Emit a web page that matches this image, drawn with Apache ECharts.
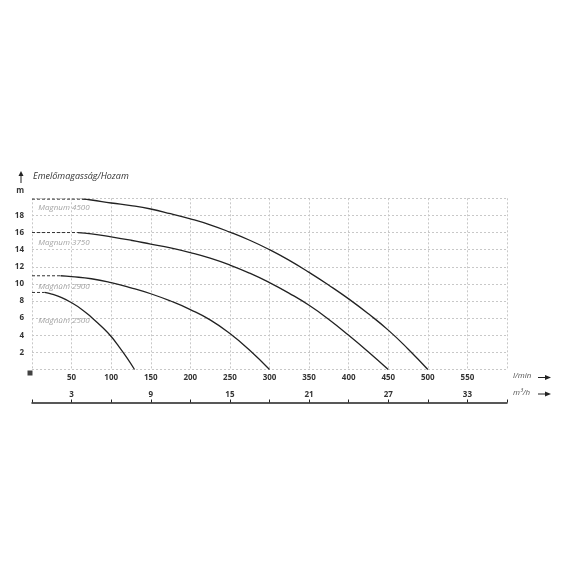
<!DOCTYPE html>
<html>
<head>
<meta charset="utf-8">
<script src="https://cdn.jsdelivr.net/npm/echarts@6/dist/echarts.min.js"></script>
<style>
  html, body { margin: 0; padding: 0; background: #fff; }
  #main { width: 570px; height: 570px; }
</style>
</head>
<body>
<div id="main"></div>
<script>
// flow (l/min) -> head (m)
var m4500Dash = [[0, 19.9], [63, 19.9]];
var m4500 = [[63, 19.9], [75, 19.8], [100, 19.45], [125, 19.15], [150, 18.75], [175, 18.2], [200, 17.6], [225, 16.9],
  [250, 16.05], [275, 15.1], [300, 14.0], [325, 12.75], [350, 11.35], [375, 9.85], [400, 8.25], [425, 6.5], [450, 4.6], [475, 2.4], [500, 0]];
var m3750Dash = [[0, 16], [58, 16]];
var m3750 = [[58, 16], [75, 15.85], [100, 15.5], [125, 15.1], [150, 14.65], [175, 14.2], [200, 13.65], [225, 13.0],
  [250, 12.2], [275, 11.25], [300, 10.15], [325, 8.9], [350, 7.5], [375, 5.85], [400, 4.0], [425, 2.05], [450, 0]];
var m2900Dash = [[0, 10.95], [36, 10.95]];
var m2900 = [[36, 10.95], [50, 10.85], [75, 10.6], [100, 10.15], [125, 9.55], [150, 8.85], [175, 8.0], [200, 7.0],
  [225, 5.8], [250, 4.2], [275, 2.25], [300, 0]];
var m2500Dash = [[0, 9.0], [16, 9.0]];
var m2500 = [[16, 9.0], [25, 8.8], [37.5, 8.4], [50, 7.8], [62.5, 7.05], [75, 6.1], [87.5, 5.05], [100, 3.85],
  [110, 2.65], [120, 1.35], [129.5, 0]];

var curveNames = ['Magnum 4500', 'Magnum 3750', 'Magnum 2900', 'Magnum 2500'];
var curveLabelHeads = [18.9, 14.8, 9.7, 5.7];
var m3hLabels = [3, 9, 15, 21, 27, 33];

var chart = echarts.init(document.getElementById('main'));
var font = 'Open Sans';

function solid(data) {
  return {
    type: 'line', data: data, xAxisIndex: 0, symbol: 'none', smooth: 0.5,
    lineStyle: { color: '#222', width: 1.3 }, silent: true
  };
}
function dashed(data) {
  return {
    type: 'line', data: data, xAxisIndex: 0, symbol: 'none',
    lineStyle: { color: '#333', width: 1, type: [3, 2] }, silent: true
  };
}

var labelSeries = {
  type: 'scatter', xAxisIndex: 0, symbolSize: 0, silent: true,
  data: curveNames.map(function (n, i) { return { value: [8, curveLabelHeads[i]], name: n }; }),
  label: {
    show: true, position: 'right', distance: 0, formatter: '{b}',
    color: '#8c8c8c', fontStyle: 'italic', fontFamily: font, fontSize: 8
  }
};

var option = {
  animation: false,
  grid: { left: 32, right: 63, top: 198.3, bottom: 200.5 },
  xAxis: [
    {
      type: 'value', min: 0, max: 600, interval: 50, position: 'bottom',
      axisLine: { show: false }, axisTick: { show: false },
      axisLabel: {
        margin: 4, color: '#333', fontWeight: 'bold', fontSize: 8, fontFamily: font,
        formatter: function (v) { return (v === 0 || v === 600) ? '' : v; }
      },
      splitLine: { show: true, lineStyle: { color: '#c8c8c8', type: [2, 2] } }
    },
    {
      type: 'value', min: 0, max: 36, interval: 3, position: 'bottom', offset: 33,
      axisLine: { show: true, onZero: false, lineStyle: { color: '#222', width: 1.5 } },
      axisTick: { show: true, inside: true, length: 3, lineStyle: { color: '#222' } },
      axisLabel: {
        inside: true, margin: 4, color: '#333', fontWeight: 'bold', fontSize: 8, fontFamily: font,
        formatter: function (v) { return m3hLabels.indexOf(v) >= 0 ? v : ''; }
      },
      splitLine: { show: false }
    }
  ],
  yAxis: {
    type: 'value', min: 0, max: 20, interval: 2,
    name: 'm', nameLocation: 'end', nameGap: 4,
    nameTextStyle: { color: '#333', fontWeight: 'bold', fontSize: 8, fontFamily: font, align: 'right', padding: [0, 8, 0, 0] },
    axisLine: { show: false }, axisTick: { show: false },
    axisLabel: {
      margin: 8, color: '#333', fontWeight: 'bold', fontSize: 8, fontFamily: font,
      formatter: function (v) { return (v === 0 || v === 20) ? '' : v; }
    },
    splitLine: { show: true, lineStyle: { color: '#c8c8c8', type: [2, 2] } }
  },
  graphic: [
    { type: 'text', left: 33, top: 172, style: { text: 'Emelőmagasság/Hozam', font: 'italic 9px "Open Sans"', fill: '#333' } },
    { type: 'line', shape: { x1: 21, y1: 183, x2: 21, y2: 175 }, style: { stroke: '#222', lineWidth: 1 } },
    { type: 'polygon', shape: { points: [[18.5, 176], [23.5, 176], [21, 171]] }, style: { fill: '#222' } },
    { type: 'text', left: 513, top: 372, style: { text: 'l/min', font: 'italic 8px "Open Sans"', fill: '#555' } },
    { type: 'text', left: 513, top: 389, style: { text: 'm³/h', font: 'italic 8px "Open Sans"', fill: '#555' } },
    { type: 'line', shape: { x1: 538, y1: 377.5, x2: 547, y2: 377.5 }, style: { stroke: '#222', lineWidth: 1 } },
    { type: 'polygon', shape: { points: [[545, 375], [545, 380], [551, 377.5]] }, style: { fill: '#222' } },
    { type: 'line', shape: { x1: 538, y1: 394, x2: 547, y2: 394 }, style: { stroke: '#222', lineWidth: 1 } },
    { type: 'polygon', shape: { points: [[545, 391.5], [545, 396.5], [551, 394]] }, style: { fill: '#222' } }
  ],
  series: [
    dashed(m4500Dash), solid(m4500),
    dashed(m3750Dash), solid(m3750),
    dashed(m2900Dash), solid(m2900),
    dashed(m2500Dash), solid(m2500),
    labelSeries,
    {
      type: 'scatter', xAxisIndex: 0, data: [[0, 0]], symbol: 'rect', symbolSize: 5,
      symbolOffset: [-2, 3.5], itemStyle: { color: '#111' }, silent: true
    }
  ]
};
chart.setOption(option);
</script>
</body>
</html>
